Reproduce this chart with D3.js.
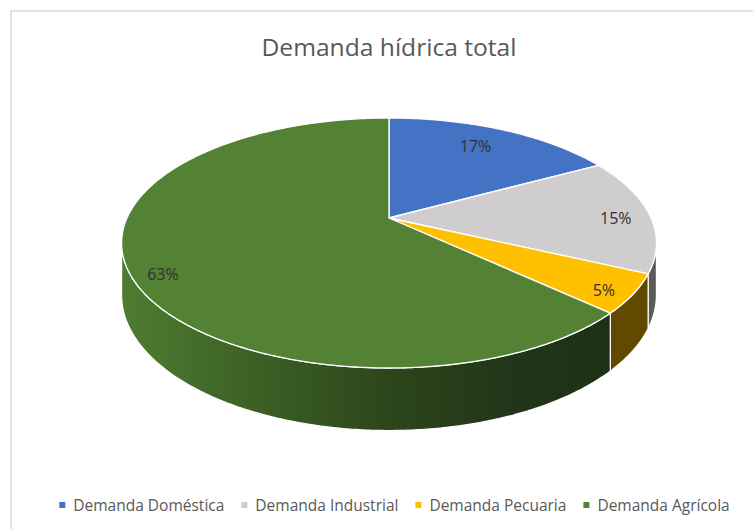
<!DOCTYPE html>
<html>
<head>
<meta charset="utf-8">
<script src="https://cdn.jsdelivr.net/npm/d3@7"></script>
<style>
  html, body { margin: 0; padding: 0; background: #fff; }
  svg { display: block; font-family: "Open Sans", "Noto Sans", sans-serif; }
</style>
</head>
<body>
<script>
var categories = ['Demanda Doméstica', 'Demanda Industrial', 'Demanda Pecuaria', 'Demanda Agrícola'];
var values = [17, 15, 5, 63];
var labels = ['17%', '15%', '5%', '63%'];
var topColors = ['#4472C4', '#CFCDCD', '#FFC000', '#548235'];
var sideColors = ['#2E4D85', '#5B5B5B', '#624900', 'url(#greenSide)'];
// where each label sits: fraction through its slice, fraction of radius
var labelFrac = [0.47, 0.53, 0.61, 0.478];
var labelRadius = [0.78, 0.866, 0.907, 0.897];

var width = 753, height = 529;
var cx = 389, cy = 218;   // where the pie centre lands on screen
var rx = 262, ry = 120;   // half axes before perspective
var persp = 0.2;          // near side bigger than far side
var depth = 50;           // thickness of the pie

var svg = d3.select('body').append('svg')
  .attr('width', width)
  .attr('height', height);

// chart area border (runs off the right and bottom edge)
svg.append('rect')
  .attr('x', 11).attr('y', 11)
  .attr('width', 800).attr('height', 600)
  .attr('fill', '#fff')
  .attr('stroke', '#D9D9D9')
  .attr('stroke-width', 1.5);

var defs = svg.append('defs');
var grad = defs.append('linearGradient')
  .attr('id', 'greenSide')
  .attr('gradientUnits', 'userSpaceOnUse')
  .attr('x1', 122).attr('y1', 0)
  .attr('x2', 610).attr('y2', 0);
[[0, '#4E7D31'], [0.25, '#3D6226'], [0.55, '#2C461B'], [0.8, '#213518'], [1, '#1E3114']].forEach(function (s) {
  grad.append('stop').attr('offset', s[0]).attr('stop-color', s[1]);
});

var xScale = d3.scaleLinear().domain([-1, 1]).range([cx - rx, cx + rx]);
var yScale = d3.scaleLinear().domain([-1, 1]).range([cy - ry, cy + ry]);

// angle measured clockwise from 12 o'clock, r in 0..1, drop = thickness
function project(theta, r, drop) {
  var u = r * Math.sin(theta);
  var v = -r * Math.cos(theta);
  var den = 1 - persp * v;
  return [xScale(u / den), yScale(v / den) + (drop || 0) / den];
}

function arcPoints(a0, a1, drop) {
  var n = Math.max(2, Math.ceil(Math.abs(a1 - a0) / 0.01));
  var pts = [];
  for (var i = 0; i <= n; i++) {
    pts.push(project(a0 + (a1 - a0) * i / n, 1, drop));
  }
  return pts;
}

var pie = d3.pie().sort(null).value(function (d) { return d; });
var arcs = pie(values);

var line = d3.line().curve(d3.curveLinearClosed);

// visible front of the side wall, between the two silhouette points
var frontStart = Math.acos(-persp);
var frontEnd = 2 * Math.PI - frontStart;

var sides = svg.append('g');
arcs.forEach(function (d, i) {
  var s = Math.max(d.startAngle, frontStart);
  var e = Math.min(d.endAngle, frontEnd);
  if (s >= e) return;
  var pts = arcPoints(s, e, 0).concat(arcPoints(e, s, depth));
  sides.append('path')
    .attr('d', line(pts))
    .attr('fill', sideColors[i])
    .attr('stroke', '#fff')
    .attr('stroke-width', 1.2)
    .attr('stroke-linejoin', 'round');
});

var tops = svg.append('g');
arcs.forEach(function (d, i) {
  var pts = [project(0, 0, 0)].concat(arcPoints(d.startAngle, d.endAngle, 0));
  tops.append('path')
    .attr('d', line(pts))
    .attr('fill', topColors[i])
    .attr('stroke', '#fff')
    .attr('stroke-width', 1.3)
    .attr('stroke-linejoin', 'round');
});

// data labels
arcs.forEach(function (d, i) {
  var a = d.startAngle + (d.endAngle - d.startAngle) * labelFrac[i];
  var p = project(a, labelRadius[i], 0);
  svg.append('text')
    .attr('x', p[0])
    .attr('y', p[1])
    .attr('text-anchor', 'middle')
    .attr('dominant-baseline', 'central')
    .attr('font-size', 16)
    .attr('fill', '#303030')
    .text(labels[i]);
});

// title
svg.append('text')
  .attr('x', 389)
  .attr('y', 56)
  .attr('text-anchor', 'middle')
  .attr('font-size', 24)
  .attr('fill', '#595959')
  .attr('textLength', 255)
  .attr('lengthAdjust', 'spacingAndGlyphs')
  .text('Demanda hídrica total');

// legend
var legend = svg.append('g');
var lx = 0;
categories.forEach(function (c, i) {
  var item = legend.append('g').attr('transform', 'translate(' + lx + ',0)');
  item.append('rect')
    .attr('x', 0).attr('y', -3)
    .attr('width', 6).attr('height', 6)
    .attr('fill', topColors[i]);
  var t = item.append('text')
    .attr('x', 14)
    .attr('y', 0)
    .attr('dominant-baseline', 'central')
    .attr('font-size', 15.5)
    .attr('fill', '#595959')
    .text(c);
  lx += 14 + t.node().getComputedTextLength() + 17;
});
var legendWidth = lx - 17;
legend.attr('transform', 'translate(' + (394.5 - legendWidth / 2) + ',505)');
</script>
</body>
</html>
